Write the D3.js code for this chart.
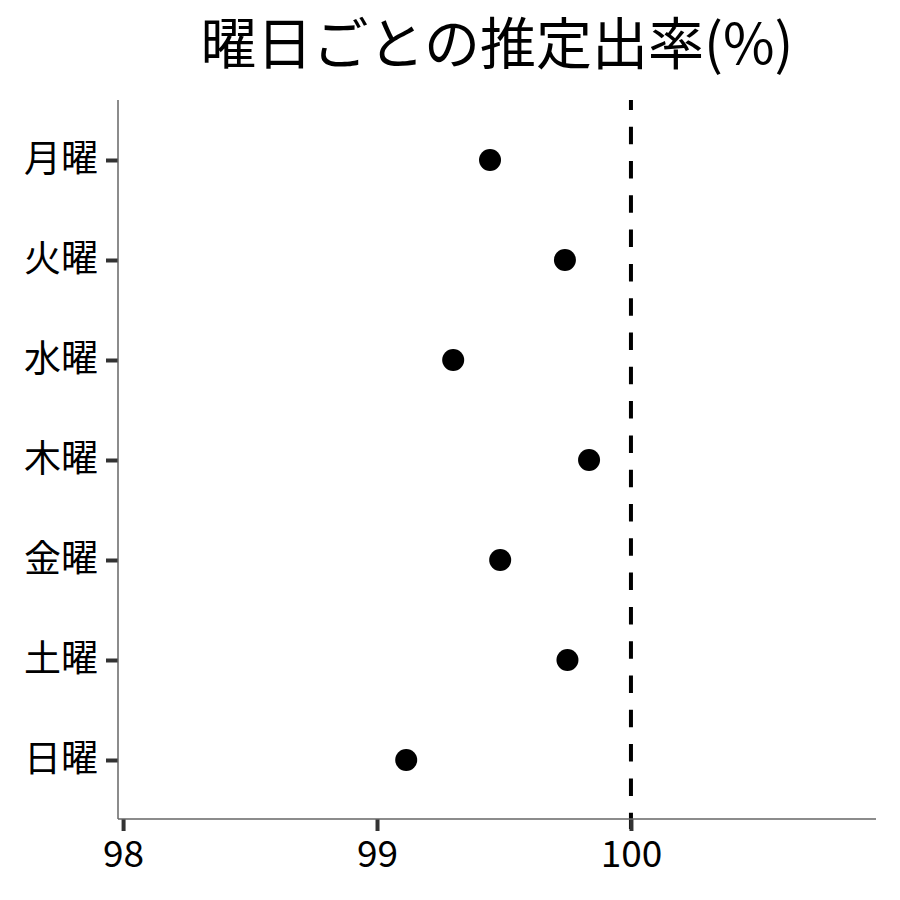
<!DOCTYPE html>
<html><head><meta charset="utf-8">
<script src="https://cdn.jsdelivr.net/npm/d3@7"></script>
<style>body{margin:0;background:#fff}text{font-family:"Noto Sans CJK JP","Noto Sans",sans-serif}</style>
</head><body>
<svg id="c" width="900" height="900"></svg>
<script>
const days = ["月曜","火曜","水曜","木曜","金曜","土曜","日曜"];
const rates = [99.445, 99.74, 99.30, 99.835, 99.485, 99.75, 99.115];
const xTicks = [98, 99, 100];
const refValue = 100;
const title = "曜日ごとの推定出率(%)";

const svg = d3.select("#c");
const L = 118, R = 876, T = 100, B = 819;
const x = d3.scaleLinear().domain([97.98, 100.965]).range([L, R]);
const y = d3.scalePoint().domain(days).range([160, 760]);

svg.append("rect").attr("width",900).attr("height",900).attr("fill","#fff");

// reference line
svg.append("line").attr("x1",x(refValue)).attr("x2",x(refValue)).attr("y1",T).attr("y2",B + 10)
  .attr("stroke","#000").attr("stroke-width",4).attr("stroke-dasharray","17.5,16.8").attr("stroke-dashoffset",7.6);

// axes
const xa = svg.append("g").attr("transform",`translate(0,${B})`)
  .call(d3.axisBottom(x).tickValues(xTicks).tickSize(12).tickPadding(10).tickFormat(d3.format("d")));
xa.select(".domain").remove();
xa.selectAll(".tick line").attr("stroke","#333").attr("stroke-width",4);
xa.selectAll(".tick text").attr("font-size",37).attr("fill","#000");

const ya = svg.append("g").attr("transform",`translate(${L},0)`)
  .call(d3.axisLeft(y).tickSize(12).tickPadding(8));
ya.select(".domain").remove();
ya.selectAll(".tick line").attr("stroke","#333").attr("stroke-width",4);
ya.selectAll(".tick text").attr("font-size",37).attr("fill","#000");

svg.append("line").attr("x1",L).attr("x2",R).attr("y1",B).attr("y2",B).attr("stroke","#666").attr("stroke-width",1.5);
svg.append("line").attr("x1",L).attr("x2",L).attr("y1",T).attr("y2",B).attr("stroke","#666").attr("stroke-width",1.5);

// points
svg.append("g").selectAll("circle").data(days).join("circle")
  .attr("cx",(d,i)=>x(rates[i])).attr("cy",d=>y(d)).attr("r",11).attr("fill","#000");

svg.append("text").attr("x",(L+R)/2).attr("y",64).attr("text-anchor","middle")
  .attr("font-size",56).attr("fill","#000").text(title);
</script>
</body></html>
